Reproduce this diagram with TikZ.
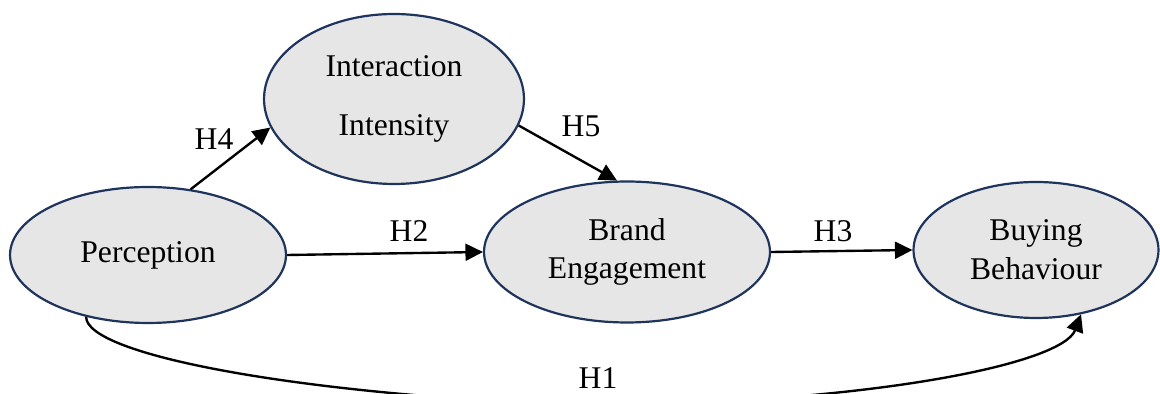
\documentclass[tikz,border=0pt]{standalone}
\usepackage{fontspec}
\setmainfont{Liberation Serif}
\usetikzlibrary{arrows.meta,shapes.geometric}
\definecolor{nodefill}{RGB}{231,230,230}
\definecolor{nodeline}{RGB}{30,52,92}
\begin{document}
\begin{tikzpicture}[x=0.02cm,y=-0.02cm,
  construct/.style={ellipse,draw=nodeline,fill=nodefill,line width=1.25pt,inner sep=0pt,
    align=center,font=\fontsize{18}{22}\selectfont},
  hyp/.style={-{Triangle[length=0.35cm,width=0.34cm]},line width=1.35pt,black},
  hlabel/.style={inner sep=0pt,font=\fontsize{18}{22}\selectfont}]
\useasboundingbox[fill=white] (0,0) rectangle (1160,394);
\node[construct,minimum width=5.52cm,minimum height=2.72cm] (P) at (148,255) {Perception};
\node[construct,minimum width=5.2cm,minimum height=3.4cm,font=\fontsize{18}{34}\selectfont] (I) at (394,99) {Interaction\\Intensity};
\node[construct,minimum width=5.72cm,minimum height=2.82cm] (B) at (627,252) {Brand\\Engagement};
\node[construct,minimum width=4.9cm,minimum height=2.72cm] (BB) at (1036,250) {Buying\\Behaviour};
\coordinate (low) at (580,405);
\draw[hyp] (P.57) -- (I.193.6);
\draw[hyp] (I.348) -- (B.98);
\draw[hyp] (P.east) -- (B.west);
\draw[hyp] (B.east) -- (BB.west);
\draw[line width=1.35pt] (P.225) .. controls (86,355) and (300,395) .. (low);
\draw[hyp] (low) .. controls (860,405) and (1062,365) .. (BB.305);
\node[hlabel] (h4) at (214,139) {H4};
\node[hlabel] (h5) at (581,126) {H5};
\node[hlabel] (h2) at (409,231) {H2};
\node[hlabel] (h3) at (833,231) {H3};
\node[hlabel] (h1) at (598,378) {H1};
\end{tikzpicture}
\end{document}
